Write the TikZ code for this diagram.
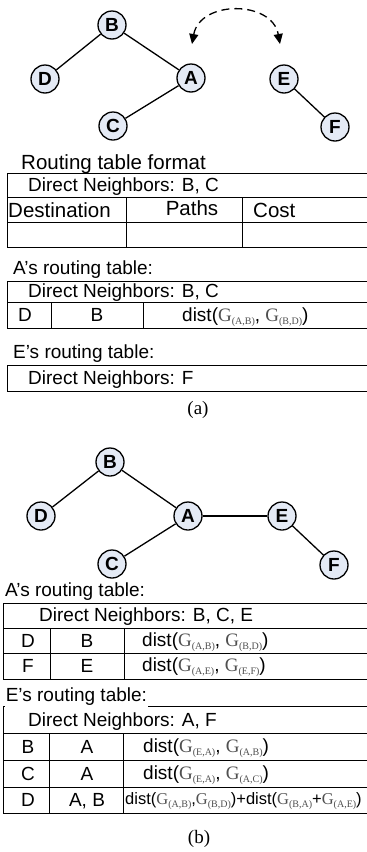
\documentclass[tikz,border=0pt]{standalone}
\usepackage{fontspec}
\setmainfont{Liberation Sans}
\newfontfamily\seriffont{Liberation Serif}
\usetikzlibrary{arrows.meta}
\definecolor{nodefill}{HTML}{E4EAF5}
\definecolor{subgray}{HTML}{505050}
\newcommand\Gsub[1]{{\seriffont\color{subgray}G\raisebox{-0.35ex}{\fontsize{10}{10}\selectfont(#1)}}}
\begin{document}
\begin{tikzpicture}[x=1pt,y=-1pt,
 vtx/.style={circle,draw,line width=1.3pt,fill=nodefill,minimum size=28pt,inner sep=0pt,
   font=\fontsize{19}{19}\selectfont\bfseries,text height=13.6pt,text depth=0pt},
 link/.style={line width=1.3pt},
 txt/.style={inner sep=0pt,anchor=west,font=\fontsize{19}{22}\selectfont,text height=13.6pt,text depth=0pt},
 ctxt/.style={inner sep=0pt,font=\fontsize{19}{22}\selectfont,text height=13.6pt,text depth=0pt},
 bigtxt/.style={font=\fontsize{20.5}{23}\selectfont,text height=14.7pt},
 tline/.style={line width=1pt},
 captxt/.style={inner sep=0pt,font=\seriffont\fontsize{19}{22}\selectfont,text height=12.6pt,text depth=0pt}
]
\clip (0,0) rectangle (367,852);
\fill[white] (0,0) rectangle (367,852);

% ---------- (a) graph ----------
\node[vtx] (aB) at (112,25) {B};
\node[vtx] (aD) at (45,79) {D};
\node[vtx] (aA) at (191,78) {A};
\node[vtx] (aC) at (113,126) {C};
\node[vtx] (aE) at (284,79) {E};
\node[vtx] (aF) at (335,127) {F};
\draw[link] (aB) -- (aD);
\draw[link] (aB) -- (aA);
\draw[link] (aA) -- (aC);
\draw[link] (aE) -- (aF);
\coordinate (arrL) at (192,44);
\coordinate (arrR) at (280,44);
\draw[line width=1.3pt,dash pattern=on 8pt off 5pt,
  {Triangle[length=10pt,width=9pt]}-{Triangle[length=10pt,width=9pt]}]
  (arrL) .. controls (200,0) and (272,0) .. (arrR);

% ---------- (a) routing table format ----------
\node[txt,bigtxt] (fmtlbl) at (21,162) {Routing table format};
\draw[tline] (7,173) rectangle (372,247);
\draw[tline] (7,197) -- (372,197);
\draw[tline] (7,222) -- (372,222);
\draw[tline] (126,197) -- (126,247);
\draw[tline] (242,197) -- (242,247);
\node[txt] (fmtdn) at (28,185) {Direct Neighbors: B, C};
\node[txt,bigtxt] (fmtdest) at (8,210) {Destination};
\node[ctxt,bigtxt] (fmtpath) at (192,208) {Paths};
\node[txt,bigtxt] (fmtcost) at (253,210) {Cost};

% ---------- (a) A's table ----------
\node[txt] (aAlbl) at (13,268) {A’s routing table:};
\draw[tline] (7,281) rectangle (372,328);
\draw[tline] (7,302) -- (372,302);
\draw[tline] (51,302) -- (51,328);
\draw[tline] (143,302) -- (143,328);
\node[txt] (aAdn) at (28,291) {Direct Neighbors: B, C};
\node[ctxt] (aAr1a) at (25,315) {D};
\node[ctxt] (aAr1b) at (97,315) {B};
\node[txt] (aAr1c) at (182,315) {dist(\Gsub{A,B}, \Gsub{B,D})};

% ---------- (a) E's table ----------
\node[txt] (aElbl) at (13,352) {E’s routing table:};
\draw[tline] (7,365) rectangle (372,391);
\node[txt] (aEdn) at (28,378) {Direct Neighbors: F};

\node[captxt] (capa) at (198,408) {(a)};

% ---------- (b) graph ----------
\node[vtx] (bB) at (110,462) {B};
\node[vtx] (bD) at (41,516) {D};
\node[vtx] (bA) at (188,516) {A};
\node[vtx] (bE) at (282,516) {E};
\node[vtx] (bC) at (112,564) {C};
\node[vtx] (bF) at (334,565) {F};
\draw[link] (bB) -- (bD);
\draw[link] (bB) -- (bA);
\draw[link] (bA) -- (bC);
\draw[link] (bA) -- (bE);
\draw[link] (bE) -- (bF);

% ---------- (b) A's table ----------
\node[txt] (bAlbl) at (5,590) {A’s routing table:};
\draw[tline] (3,603) rectangle (372,679);
\draw[tline] (3,628) -- (372,628);
\draw[tline] (3,653) -- (372,653);
\draw[tline] (50,628) -- (50,679);
\draw[tline] (124,628) -- (124,679);
\node[txt] (bAdn) at (39,615) {Direct Neighbors: B, C, E};
\node[ctxt] (bAr1a) at (28,641) {D};
\node[ctxt] (bAr1b) at (87,641) {B};
\node[txt] (bAr1c) at (142,640) {dist(\Gsub{A,B}, \Gsub{B,D})};
\node[ctxt] (bAr2a) at (28,666) {F};
\node[ctxt] (bAr2b) at (87,666) {E};
\node[txt] (bAr2c) at (142,665) {dist(\Gsub{A,E}, \Gsub{E,F})};

% ---------- (b) E's table ----------
\draw[tline] (3,706) rectangle (372,813);
\draw[tline] (3,733) -- (372,733);
\draw[tline] (3,760) -- (372,760);
\draw[tline] (3,787) -- (372,787);
\draw[tline] (49,733) -- (49,813);
\draw[tline] (123,733) -- (123,813);
\node[txt,fill=white,inner sep=0.6pt,text depth=4.5pt] (bElbl) at (5,697) {E’s routing table:};
\node[txt] (bEdn) at (28,720) {Direct Neighbors: A, F};
\node[ctxt] (bEr1a) at (28,747) {B};
\node[ctxt] (bEr1b) at (87,747) {A};
\node[txt] (bEr1c) at (143,746) {dist(\Gsub{E,A}, \Gsub{A,B})};
\node[ctxt] (bEr2a) at (28,774) {C};
\node[ctxt] (bEr2b) at (87,774) {A};
\node[txt] (bEr2c) at (143,773) {dist(\Gsub{E,A}, \Gsub{A,C})};
\node[ctxt] (bEr3a) at (28,800) {D};
\node[ctxt] (bEr3b) at (87,800) {A, B};
\node[txt,font=\fontsize{16.5}{19}\selectfont,text height=11.8pt] (bEr3c) at (125,799) {dist(\Gsub{A,B},\Gsub{B,D})+dist(\Gsub{B,A}+\Gsub{A,E})};

\node[captxt] (capb) at (199,837) {(b)};
\end{tikzpicture}
\end{document}
